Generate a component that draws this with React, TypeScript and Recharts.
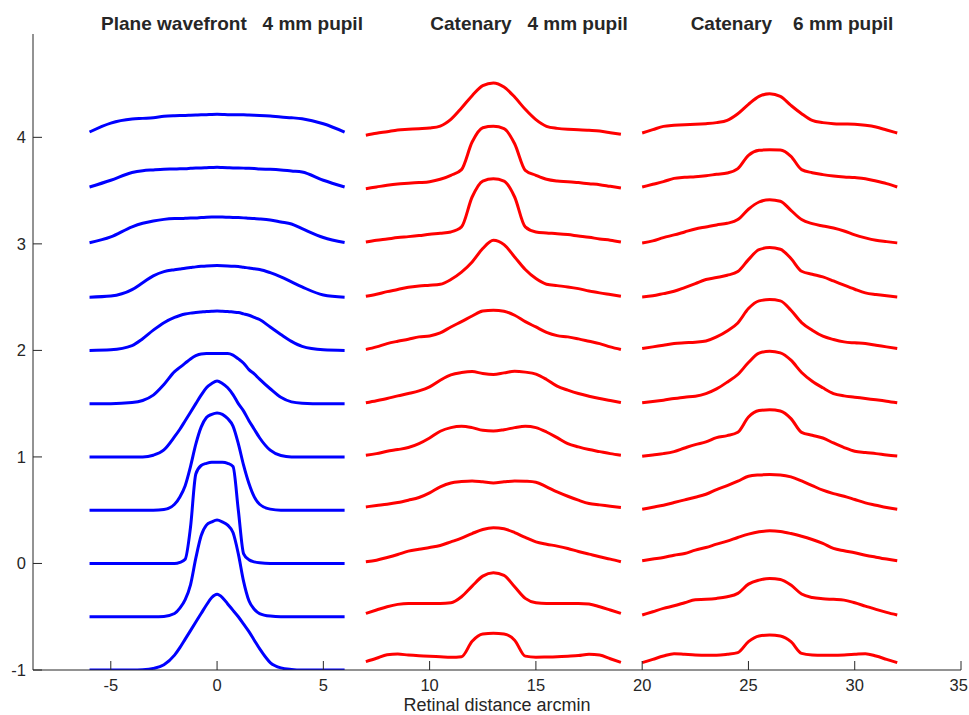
import { LineChart, Line, XAxis, YAxis } from 'recharts';

// x positions (arcmin) sampled for each column of profiles
const planeX = [-6, -5, -4, -3.5, -3, -2.5, -2, -1.75, -1.5, -1.25, -1, -0.75, -0.5, -0.25, 0, 0.25, 0.5, 0.75, 1, 1.25, 1.5, 1.75, 2, 2.5, 3, 3.5, 4, 5, 6];
const cat4X = [7, 7.5, 8, 8.5, 9, 9.5, 10, 10.5, 11, 11.5, 12, 12.5, 13, 13.5, 14, 14.5, 15, 15.5, 16, 16.5, 17, 17.5, 18, 18.5, 19];
const cat6X = [20, 20.5, 21, 21.5, 22, 22.5, 23, 23.5, 24, 24.5, 25, 25.5, 26, 26.5, 27, 27.5, 28, 28.5, 29, 29.5, 30, 30.5, 31, 31.5, 32];

// vertical offset of each stacked trace
const offsets = [-1, -0.5, 0, 0.5, 1, 1.5, 2, 2.5, 3, 3.5, 4];

const xTicks = [-5, 0, 5, 10, 15, 20, 25, 30, 35];
const yTicks = [-1, 0, 1, 2, 3, 4];

// plane wavefront, 4 mm pupil (bottom to top)
const plane0 = [0, 0, 0, 0.003, 0.015, 0.05, 0.14, 0.21, 0.29, 0.37, 0.45, 0.53, 0.61, 0.68, 0.71, 0.68, 0.62, 0.56, 0.5, 0.43, 0.36, 0.28, 0.2, 0.07, 0.02, 0.005, 0, 0, 0];
const plane1 = [0, 0, 0, 0, 0, 0.003, 0.03, 0.08, 0.16, 0.3, 0.55, 0.76, 0.86, 0.89, 0.907, 0.89, 0.86, 0.79, 0.59, 0.33, 0.15, 0.07, 0.03, 0.006, 0, 0, 0, 0, 0];
const plane2 = [0, 0, 0, 0, 0, 0, 0, 0.01, 0.04, 0.34, 0.84, 0.92, 0.94, 0.95, 0.95, 0.95, 0.94, 0.91, 0.5, 0.09, 0.035, 0.015, 0.006, 0, 0, 0, 0, 0, 0];
const plane3 = [0, 0, 0, 0, 0, 0.006, 0.056, 0.125, 0.23, 0.41, 0.62, 0.78, 0.87, 0.9, 0.913, 0.9, 0.86, 0.79, 0.625, 0.42, 0.25, 0.125, 0.056, 0.01, 0, 0, 0, 0, 0];
const plane4 = [0, 0, 0, 0, 0.016, 0.066, 0.19, 0.26, 0.34, 0.42, 0.5, 0.58, 0.65, 0.69, 0.713, 0.69, 0.65, 0.585, 0.5, 0.43, 0.34, 0.26, 0.18, 0.063, 0.013, 0, 0, 0, 0];
const plane5 = [0, 0, 0.01, 0.03, 0.08, 0.18, 0.3, 0.34, 0.38, 0.42, 0.45, 0.467, 0.47, 0.47, 0.47, 0.47, 0.47, 0.455, 0.42, 0.38, 0.32, 0.28, 0.23, 0.14, 0.06, 0.017, 0.005, 0, 0];
const plane6 = [0, 0.006, 0.045, 0.11, 0.19, 0.26, 0.31, 0.328, 0.342, 0.35, 0.355, 0.36, 0.365, 0.368, 0.37, 0.368, 0.365, 0.36, 0.355, 0.343, 0.33, 0.31, 0.29, 0.22, 0.15, 0.085, 0.038, 0.006, 0];
const plane7 = [0, 0.01, 0.07, 0.135, 0.2, 0.24, 0.258, 0.265, 0.272, 0.278, 0.284, 0.289, 0.293, 0.295, 0.296, 0.295, 0.293, 0.29, 0.287, 0.28, 0.274, 0.267, 0.26, 0.23, 0.19, 0.143, 0.096, 0.02, 0];
const plane8 = [0.01, 0.065, 0.16, 0.193, 0.215, 0.23, 0.237, 0.238, 0.24, 0.242, 0.243, 0.247, 0.25, 0.252, 0.253, 0.252, 0.25, 0.248, 0.247, 0.244, 0.24, 0.237, 0.234, 0.225, 0.206, 0.187, 0.143, 0.06, 0.012];
const plane9 = [0.034, 0.097, 0.17, 0.187, 0.194, 0.2, 0.203, 0.205, 0.206, 0.209, 0.212, 0.213, 0.215, 0.217, 0.219, 0.217, 0.215, 0.213, 0.212, 0.211, 0.21, 0.207, 0.203, 0.2, 0.194, 0.184, 0.175, 0.097, 0.034];
const plane10 = [0.05, 0.134, 0.172, 0.178, 0.184, 0.197, 0.203, 0.205, 0.206, 0.208, 0.21, 0.212, 0.213, 0.215, 0.216, 0.215, 0.213, 0.213, 0.213, 0.212, 0.21, 0.208, 0.206, 0.2, 0.19, 0.184, 0.175, 0.128, 0.05];

// catenary, 4 mm pupil
const cat4_0 = [0.078, 0.11, 0.144, 0.15, 0.14, 0.133, 0.128, 0.124, 0.12, 0.125, 0.27, 0.338, 0.344, 0.338, 0.28, 0.13, 0.12, 0.122, 0.125, 0.13, 0.136, 0.148, 0.14, 0.106, 0.072];
const cat4_1 = [0.031, 0.063, 0.094, 0.116, 0.125, 0.125, 0.125, 0.125, 0.131, 0.188, 0.288, 0.381, 0.413, 0.388, 0.281, 0.172, 0.131, 0.125, 0.125, 0.125, 0.125, 0.119, 0.094, 0.063, 0.031];
const cat4_2 = [0.016, 0.031, 0.056, 0.084, 0.116, 0.134, 0.15, 0.169, 0.203, 0.238, 0.281, 0.319, 0.335, 0.325, 0.29, 0.244, 0.203, 0.181, 0.163, 0.141, 0.113, 0.088, 0.063, 0.041, 0.016];
const cat4_3 = [0.031, 0.044, 0.056, 0.072, 0.094, 0.119, 0.163, 0.219, 0.256, 0.269, 0.275, 0.266, 0.256, 0.266, 0.275, 0.272, 0.263, 0.219, 0.172, 0.131, 0.094, 0.063, 0.05, 0.038, 0.025];
const cat4_4 = [0.016, 0.031, 0.053, 0.069, 0.088, 0.125, 0.178, 0.241, 0.275, 0.288, 0.275, 0.25, 0.244, 0.256, 0.275, 0.288, 0.275, 0.234, 0.181, 0.125, 0.094, 0.069, 0.05, 0.031, 0.016];
const cat4_5 = [0.008, 0.027, 0.048, 0.073, 0.095, 0.12, 0.158, 0.22, 0.27, 0.292, 0.302, 0.283, 0.274, 0.289, 0.305, 0.296, 0.277, 0.227, 0.164, 0.127, 0.095, 0.07, 0.048, 0.03, 0.011];
const cat4_6 = [0.008, 0.033, 0.064, 0.086, 0.105, 0.127, 0.136, 0.164, 0.22, 0.27, 0.323, 0.37, 0.377, 0.368, 0.33, 0.27, 0.22, 0.17, 0.139, 0.127, 0.108, 0.086, 0.064, 0.033, 0.008];
const cat4_7 = [0.008, 0.027, 0.052, 0.071, 0.093, 0.105, 0.112, 0.121, 0.165, 0.234, 0.33, 0.456, 0.534, 0.493, 0.377, 0.259, 0.174, 0.121, 0.108, 0.096, 0.08, 0.058, 0.04, 0.024, 0.008];
const cat4_8 = [0.018, 0.034, 0.046, 0.059, 0.068, 0.078, 0.09, 0.1, 0.112, 0.159, 0.44, 0.59, 0.612, 0.59, 0.44, 0.159, 0.112, 0.103, 0.096, 0.087, 0.074, 0.062, 0.046, 0.034, 0.018];
const cat4_9 = [0.018, 0.034, 0.05, 0.062, 0.068, 0.075, 0.084, 0.106, 0.144, 0.197, 0.456, 0.59, 0.603, 0.581, 0.44, 0.19, 0.144, 0.106, 0.09, 0.084, 0.075, 0.065, 0.056, 0.04, 0.025];
const cat4_10 = [0.019, 0.038, 0.053, 0.069, 0.075, 0.081, 0.088, 0.106, 0.169, 0.275, 0.391, 0.485, 0.51, 0.472, 0.378, 0.263, 0.166, 0.103, 0.084, 0.075, 0.072, 0.066, 0.059, 0.044, 0.028];

// catenary, 6 mm pupil
const cat6_0 = [0.069, 0.1, 0.131, 0.153, 0.147, 0.141, 0.138, 0.138, 0.147, 0.163, 0.266, 0.319, 0.328, 0.319, 0.266, 0.156, 0.141, 0.138, 0.138, 0.141, 0.147, 0.153, 0.131, 0.1, 0.069];
const cat6_1 = [0.016, 0.047, 0.078, 0.103, 0.131, 0.159, 0.163, 0.172, 0.188, 0.219, 0.306, 0.344, 0.36, 0.35, 0.297, 0.213, 0.181, 0.169, 0.163, 0.156, 0.131, 0.1, 0.069, 0.041, 0.016];
const cat6_2 = [0.025, 0.041, 0.056, 0.078, 0.094, 0.125, 0.15, 0.181, 0.21, 0.244, 0.275, 0.297, 0.306, 0.3, 0.281, 0.256, 0.225, 0.188, 0.141, 0.119, 0.1, 0.078, 0.059, 0.041, 0.025];
const cat6_3 = [0.009, 0.028, 0.047, 0.072, 0.097, 0.122, 0.15, 0.194, 0.231, 0.272, 0.319, 0.331, 0.335, 0.331, 0.313, 0.275, 0.231, 0.188, 0.156, 0.131, 0.1, 0.069, 0.047, 0.025, 0.009];
const cat6_4 = [0.006, 0.019, 0.031, 0.05, 0.084, 0.116, 0.141, 0.181, 0.2, 0.231, 0.375, 0.435, 0.444, 0.431, 0.36, 0.231, 0.203, 0.178, 0.131, 0.088, 0.053, 0.041, 0.031, 0.019, 0.009];
const cat6_5 = [0.008, 0.02, 0.033, 0.048, 0.061, 0.07, 0.095, 0.139, 0.202, 0.274, 0.386, 0.474, 0.492, 0.477, 0.408, 0.293, 0.211, 0.149, 0.095, 0.073, 0.061, 0.048, 0.036, 0.023, 0.008];
const cat6_6 = [0.018, 0.033, 0.049, 0.064, 0.071, 0.077, 0.089, 0.127, 0.183, 0.258, 0.393, 0.465, 0.477, 0.465, 0.377, 0.261, 0.189, 0.133, 0.102, 0.08, 0.071, 0.064, 0.049, 0.033, 0.018];
const cat6_7 = [0.002, 0.012, 0.033, 0.055, 0.09, 0.127, 0.165, 0.184, 0.205, 0.24, 0.352, 0.446, 0.465, 0.449, 0.362, 0.243, 0.215, 0.19, 0.152, 0.112, 0.074, 0.04, 0.024, 0.012, 0.002];
const cat6_8 = [0.009, 0.028, 0.059, 0.084, 0.112, 0.14, 0.159, 0.178, 0.193, 0.228, 0.325, 0.393, 0.415, 0.4, 0.315, 0.228, 0.19, 0.168, 0.149, 0.121, 0.084, 0.056, 0.034, 0.021, 0.009];
const cat6_9 = [0.034, 0.059, 0.084, 0.115, 0.125, 0.131, 0.14, 0.153, 0.165, 0.206, 0.331, 0.378, 0.384, 0.381, 0.322, 0.197, 0.168, 0.15, 0.137, 0.128, 0.122, 0.112, 0.09, 0.065, 0.034];
const cat6_10 = [0.041, 0.072, 0.103, 0.113, 0.119, 0.122, 0.128, 0.138, 0.159, 0.222, 0.31, 0.385, 0.41, 0.385, 0.3, 0.222, 0.159, 0.138, 0.128, 0.125, 0.122, 0.113, 0.097, 0.069, 0.041];

const planeCurves = [plane0, plane1, plane2, plane3, plane4, plane5, plane6, plane7, plane8, plane9, plane10];
const cat4Curves = [cat4_0, cat4_1, cat4_2, cat4_3, cat4_4, cat4_5, cat4_6, cat4_7, cat4_8, cat4_9, cat4_10];
const cat6Curves = [cat6_0, cat6_1, cat6_2, cat6_3, cat6_4, cat6_5, cat6_6, cat6_7, cat6_8, cat6_9, cat6_10];

const groups = [
  { key: 'plane', xs: planeX, curves: planeCurves, color: '#0000ff' },
  { key: 'cat4', xs: cat4X, curves: cat4Curves, color: '#ff0000' },
  { key: 'cat6', xs: cat6X, curves: cat6Curves, color: '#ff0000' },
];

const series = groups.flatMap((g) =>
  g.curves.map((profile, k) => ({
    id: `${g.key}-${k}`,
    color: g.color,
    data: g.xs.map((x, i) => ({ x, y: offsets[k] + profile[i] })),
  }))
);

const titles = [
  { text: 'Plane wavefront   4 mm pupil', center: 232 },
  { text: 'Catenary   4 mm pupil', center: 529 },
  { text: 'Catenary    6 mm pupil', center: 792 },
];

const WIDTH = 969;
const HEIGHT = 715;
const FONT = '"Liberation Sans", Arial, Helvetica, sans-serif';
const INK = '#262626';
const TICK_FONT = 16.5;

const XTick = (props: any) => {
  const { x, y, payload } = props;
  // keep the last label inside the page
  const half = String(payload.value).length * TICK_FONT * 0.28;
  const tx = Math.min(x, WIDTH - 1 - half);
  return (
    <g>
      <line x1={x} y1={y} x2={x} y2={y - 9} stroke={INK} strokeWidth={1} />
      <text x={tx} y={y + 21} textAnchor="middle" fill={INK} fontSize={TICK_FONT} fontFamily={FONT}>
        {payload.value}
      </text>
    </g>
  );
};

const YTick = (props: any) => {
  const { x, y, payload } = props;
  return (
    <g>
      <line x1={x} y1={y} x2={x + 9} y2={y} stroke={INK} strokeWidth={1} />
      <text x={x - 7} y={y + 6} textAnchor="end" fill={INK} fontSize={TICK_FONT} fontFamily={FONT}>
        {payload.value}
      </text>
    </g>
  );
};

export default function App() {
  return (
    <div style={{ position: 'absolute', left: 0, top: 0, width: WIDTH, height: HEIGHT, background: '#fff' }}>
      {titles.map((t) => (
        <div
          key={t.text}
          style={{
            position: 'absolute',
            top: 14,
            left: t.center,
            transform: 'translateX(-50%)',
            whiteSpace: 'pre',
            fontFamily: FONT,
            fontWeight: 700,
            fontSize: 19,
            lineHeight: 1,
            color: INK,
          }}
        >
          {t.text}
        </div>
      ))}
      <LineChart width={WIDTH} height={HEIGHT} margin={{ top: 34, right: 8, left: 0, bottom: 0 }}>
        <XAxis
          dataKey="x"
          type="number"
          domain={[-8.66, 35]}
          ticks={xTicks}
          allowDataOverflow
          height={45}
          tickSize={0}
          tickMargin={0}
          tickLine={false}
          tick={<XTick />}
          axisLine={{ stroke: INK, strokeWidth: 1 }}
          label={{
            value: 'Retinal distance arcmin',
            position: 'insideBottom',
            offset: 4,
            fill: INK,
            fontSize: 18,
            fontFamily: FONT,
          }}
        />
        <YAxis
          type="number"
          domain={[-1, 4.97]}
          ticks={yTicks}
          allowDataOverflow
          width={33}
          tickSize={0}
          tickMargin={0}
          tickLine={false}
          tick={<YTick />}
          axisLine={{ stroke: INK, strokeWidth: 1 }}
        />
        {series.map((s) => (
          <Line
            key={s.id}
            data={s.data}
            dataKey="y"
            type="monotone"
            stroke={s.color}
            strokeWidth={3}
            strokeLinejoin="round"
            dot={false}
            activeDot={false}
            isAnimationActive={false}
          />
        ))}
      </LineChart>
    </div>
  );
}
